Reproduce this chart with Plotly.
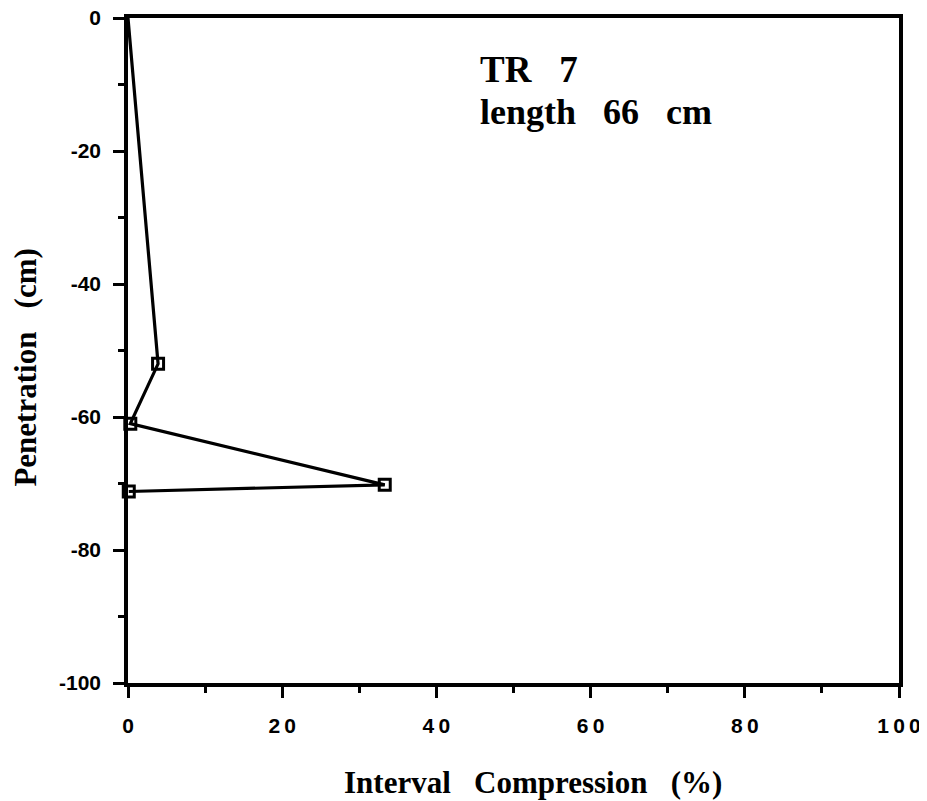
import plotly.graph_objects as go

compression = [0.0, 3.9, 0.3, 33.3, 0.1]
penetration = [0.0, -52.0, -61.0, -70.2, -71.2]
show_marker = [False, True, True, True, True]

x_tick_vals = [0, 20, 40, 60, 80, 100]
x_tick_text = ["0", "2\u20090", "4\u20090", "6\u20090", "8\u20090", "1\u20090\u20090"]
y_tick_vals = [0, -20, -40, -60, -80, -100]
y_tick_text = ["0", "-20", "-40", "-60", "-80", "-100"]

SP = "\u00a0"

fig = go.Figure()
fig.add_trace(go.Scatter(
    x=compression, y=penetration, mode="lines",
    line=dict(color="black", width=3.2), cliponaxis=False, showlegend=False))
fig.add_trace(go.Scatter(
    x=[x for x, s in zip(compression, show_marker) if s],
    y=[y for y, s in zip(penetration, show_marker) if s],
    mode="markers",
    marker=dict(symbol="square-open", size=11, color="black", line=dict(width=3)),
    cliponaxis=False, showlegend=False))

fig.add_annotation(x=0.454, y=0.922, xref="paper", yref="paper", xanchor="left", yanchor="middle",
                   text="<b>TR" + SP * 3 + "7</b>", showarrow=False,
                   font=dict(family="Liberation Serif", size=37, color="black"))
fig.add_annotation(x=0.454, y=0.859, xref="paper", yref="paper", xanchor="left", yanchor="middle",
                   text="<b>length" + SP * 3 + "66" + SP * 3 + "cm</b>", showarrow=False,
                   font=dict(family="Liberation Serif", size=36, color="black"))
fig.add_annotation(x=0.525, y=-0.150, xref="paper", yref="paper", xanchor="center", yanchor="middle",
                   text="<b>Interval" + SP * 3 + "Compression" + SP * 3 + "(%)</b>", showarrow=False,
                   font=dict(family="Liberation Serif", size=31, color="black"))
fig.add_annotation(x=-0.133, y=0.475, xref="paper", yref="paper", xanchor="center", yanchor="middle",
                   text="<b>Penetration" + SP * 3 + "(cm)</b>", showarrow=False, textangle=-90,
                   font=dict(family="Liberation Serif", size=31, color="black"))

axis_common = dict(showline=True, linewidth=3.5, linecolor="black", mirror=True,
                   ticks="outside", tickwidth=3, ticklen=11, tickcolor="black",
                   showgrid=False, zeroline=False, automargin=False,
                   ticklabeloverflow="allow",
                   tickfont=dict(family="Liberation Sans", size=21, color="black"),
                   minor=dict(ticks="outside", ticklen=6, tickwidth=3, tickcolor="black", dtick=10, tick0=0))

fig.update_xaxes(range=[0, 100], tickvals=x_tick_vals,
                 ticktext=["<b>" + t + "</b>" for t in x_tick_text],
                 ticklabelstandoff=10, **axis_common)
fig.update_yaxes(range=[-100, 0], tickvals=y_tick_vals,
                 ticktext=["<b>" + t + "</b>" for t in y_tick_text],
                 ticklabelstandoff=8, **axis_common)
fig.update_layout(width=919, height=793, margin=dict(l=120, r=28, t=10, b=118),
                  plot_bgcolor="white", paper_bgcolor="white")
fig.write_html("out.html")
